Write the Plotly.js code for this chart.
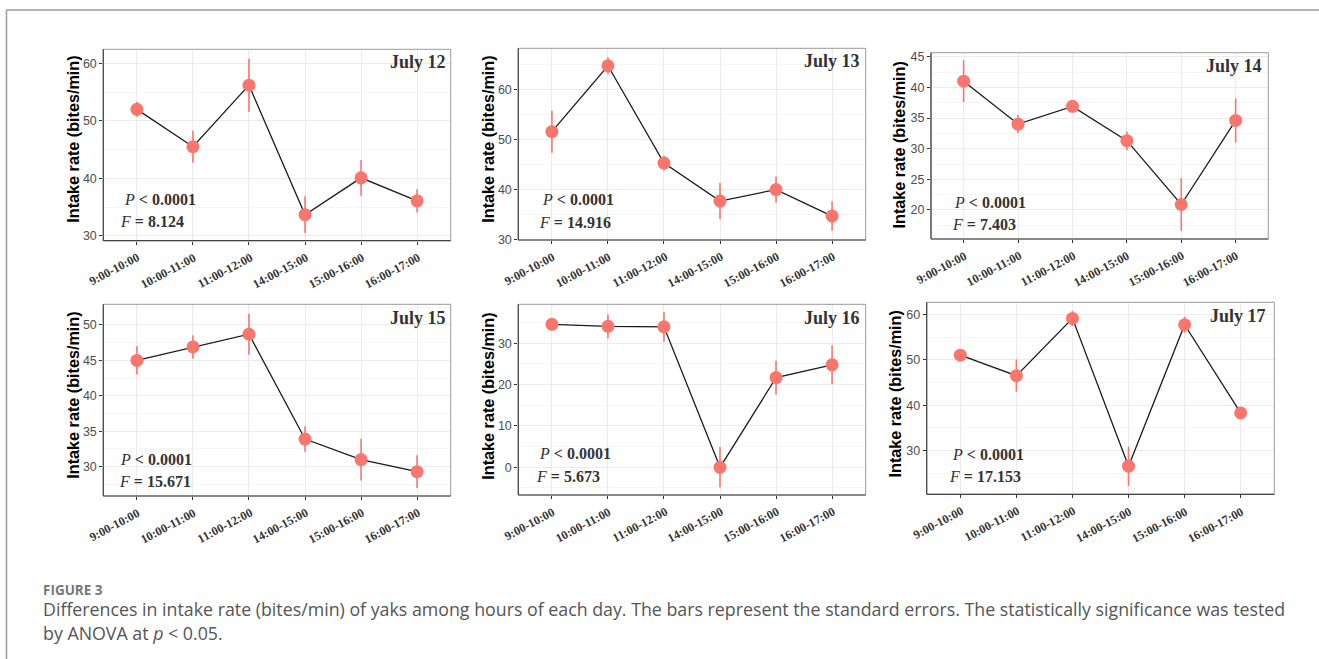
<!DOCTYPE html>
<html>
<head>
<meta charset="utf-8">
<script src="https://cdn.plot.ly/plotly-3.0.1.min.js"></script>
<style>
  html, body { margin: 0; padding: 0; background: #ffffff; }
  #fig { width: 1319px; height: 659px; }
</style>
</head>
<body>
<div id="fig"></div>
<script>
// Hourly intake rate of yaks (bites/min), mean and standard error per day
const hours = ["9:00-10:00", "10:00-11:00", "11:00-12:00", "14:00-15:00", "15:00-16:00", "16:00-17:00"];

const jul12 = [52.0, 45.5, 56.2, 33.7, 40.1, 36.1];
const se12  = [1.3, 2.8, 4.6, 3.2, 3.1, 2.0];
const jul13 = [51.6, 64.8, 45.3, 37.7, 40.0, 34.7];
const se13  = [4.2, 1.7, 1.5, 3.6, 2.6, 2.9];
const jul14 = [41.0, 34.0, 36.9, 31.3, 20.9, 34.6];
const se14  = [3.4, 1.5, 1.0, 1.5, 4.3, 3.6];
const jul15 = [45.0, 46.9, 48.7, 33.9, 31.0, 29.3];
const se15  = [2.0, 1.65, 2.9, 1.8, 2.95, 2.3];
const jul16 = [34.6, 34.1, 34.0, 0.0, 21.7, 24.8];
const se16  = [1.4, 2.9, 3.6, 4.9, 4.1, 4.65];
const jul17 = [51.0, 46.5, 59.1, 26.6, 57.7, 38.3];
const se17  = [0.9, 3.55, 1.7, 4.35, 1.75, 0.5];

const dayLabels = ["July 12", "July 13", "July 14", "July 15", "July 16", "July 17"];
const pValues   = ["0.0001", "0.0001", "0.0001", "0.0001", "0.0001", "0.0001"];
const fValues   = ["8.124", "14.916", "7.403", "15.671", "5.673", "17.153"];

const means = [jul12, jul13, jul14, jul15, jul16, jul17];
const errs  = [se12, se13, se14, se15, se16, se17];

const yTitle = "Intake rate (bites/min)";
const captionHead = "FIGURE 3";
const captionLine1 = "Differences in intake rate (bites/min) of yaks among hours of each day. The bars represent the standard errors. The statistically significance was tested";
const captionLine2 = "by ANOVA at <i>p</i> &lt; 0.05.";

// ---- panel geometry (pixels on the 1319 x 659 page) ----
const W = 1319, H = 659;
const panels = [
  { l: 103.3, r: 450.7,  t: 49.3,  b: 240.7, yr: [29.18, 62.43], dt: 10, mdt: 5,   ttl: [72.7, 139],  p: [0.053, 0.213], f: [0.043, 0.099], d: [0.991, 0.935] },
  { l: 518.3, r: 865.7,  t: 48.3,  b: 240.0, yr: [29.9, 68.3],   dt: 10, mdt: 5,   ttl: [487.7, 139], p: [0.0625, 0.209], f: [0.053, 0.090], d: [0.990, 0.935] },
  { l: 931.0, r: 1268.3, t: 52.7,  b: 239.0, yr: [15.27, 45.65], dt: 5,  mdt: 2.5, ttl: [898.5, 145], p: [0.061, 0.197], f: [0.056, 0.080], d: [0.988, 0.929] },
  { l: 103.3, r: 450.7,  t: 304.3, b: 496.0, yr: [25.86, 52.92], dt: 5,  mdt: 2.5, ttl: [72.7, 395],  p: [0.043, 0.191], f: [0.040, 0.078], d: [0.991, 0.927] },
  { l: 518.3, r: 865.7,  t: 304.3, b: 495.0, yr: [-6.7, 39.44],  dt: 10, mdt: 5,   ttl: [487.7, 396], p: [0.053, 0.219], f: [0.046, 0.0996], d: [0.990, 0.930] },
  { l: 926.7, r: 1274.3, t: 302.3, b: 494.3, yr: [20.41, 62.64], dt: 10, mdt: 5,   ttl: [894.5, 394], p: [0.067, 0.208], f: [0.0575, 0.095], d: [0.982, 0.930] }
];

const px = v => v / W;
const py = v => 1 - v / H;

const salmon = "#F8766D";
const serif = "Liberation Serif, Times New Roman, serif";
const sans = "Liberation Sans, Arial, sans-serif";

const data = [];
const layout = {
  width: W, height: H,
  margin: { l: 0, r: 0, t: 0, b: 0 },
  paper_bgcolor: "#ffffff",
  plot_bgcolor: "#ffffff",
  showlegend: false,
  annotations: [],
  shapes: []
};

panels.forEach((pn, i) => {
  const n = i + 1;
  const xa = n === 1 ? "x" : "x" + n;
  const ya = n === 1 ? "y" : "y" + n;
  const xk = n === 1 ? "xaxis" : "xaxis" + n;
  const yk = n === 1 ? "yaxis" : "yaxis" + n;

  // connecting line
  data.push({
    type: "scatter", mode: "lines",
    x: hours, y: means[i], xaxis: xa, yaxis: ya,
    line: { color: "#1a1a1a", width: 1.3 },
    hoverinfo: "skip"
  });
  // means with standard-error bars
  data.push({
    type: "scatter", mode: "markers",
    x: hours, y: means[i], xaxis: xa, yaxis: ya,
    marker: { color: salmon, size: 13, line: { width: 0 } },
    error_y: { type: "data", array: errs[i], visible: true, color: salmon, thickness: 1.6, width: 0 }
  });

  layout[xk] = {
    domain: [px(pn.l), px(pn.r)],
    anchor: ya,
    type: "category",
    categoryorder: "array",
    categoryarray: hours,
    range: [-0.6, 5.6],
    showgrid: true, gridcolor: "#ebebeb", gridwidth: 1,
    zeroline: false, showline: false,
    ticks: "outside", ticklen: 3, tickcolor: "#333333", tickwidth: 1,
    showticklabels: false
  };
  layout[yk] = {
    domain: [py(pn.b), py(pn.t)],
    anchor: xa,
    range: pn.yr,
    dtick: pn.dt, tick0: 0,
    showgrid: true, gridcolor: "#ebebeb", gridwidth: 1,
    minor: { dtick: pn.mdt, tick0: 0, showgrid: true, gridcolor: "#f5f5f5", gridwidth: 1, ticks: "" },
    zeroline: false, showline: false,
    ticks: "outside", ticklen: 3, tickcolor: "#333333", tickwidth: 1,
    tickfont: { family: sans, size: 12.5, color: "#4d4d4d" }
  };

  // slanted hour labels under each tick
  hours.forEach(h => {
    layout.annotations.push({
      xref: xa, yref: ya + " domain", x: h, y: 0,
      xanchor: "right", yanchor: "top", xshift: 8, yshift: -7,
      textangle: -28, showarrow: false,
      text: "<b>" + h + "</b>",
      font: { family: serif, size: 12.2, color: "#333333" }
    });
  });

  // panel frame: grey box, darker left and bottom axis lines
  layout.shapes.push({ type: "rect", xref: xa + " domain", yref: ya + " domain", x0: 0, x1: 1, y0: 0, y1: 1,
    line: { color: "#9a9a9a", width: 1 }, fillcolor: "rgba(0,0,0,0)", layer: "above" });
  layout.shapes.push({ type: "line", xref: xa + " domain", yref: ya + " domain", x0: 0, x1: 0, y0: 0, y1: 1,
    line: { color: "#444444", width: 1.2 }, layer: "above" });
  layout.shapes.push({ type: "line", xref: xa + " domain", yref: ya + " domain", x0: 0, x1: 1, y0: 0, y1: 0,
    line: { color: "#444444", width: 1.2 }, layer: "above" });

  // y-axis title
  layout.annotations.push({
    xref: "paper", yref: "paper", x: px(pn.ttl[0]), y: py(pn.ttl[1]),
    xanchor: "center", yanchor: "middle", textangle: -90, showarrow: false,
    text: "<b>" + yTitle + "</b>",
    font: { family: sans, size: 16.2, color: "#000000" }
  });
  // day label
  layout.annotations.push({
    xref: xa + " domain", yref: ya + " domain", x: pn.d[0], y: pn.d[1],
    xanchor: "right", yanchor: "middle", showarrow: false,
    text: "<b>" + dayLabels[i] + "</b>",
    font: { family: serif, size: 18, color: "#333333" }
  });
  // ANOVA statistics
  layout.annotations.push({
    xref: xa + " domain", yref: ya + " domain", x: pn.p[0], y: pn.p[1],
    xanchor: "left", yanchor: "middle", showarrow: false,
    text: "<i>P</i><b> &lt; " + pValues[i] + "</b>",
    font: { family: serif, size: 16, color: "#333333" }
  });
  layout.annotations.push({
    xref: xa + " domain", yref: ya + " domain", x: pn.f[0], y: pn.f[1],
    xanchor: "left", yanchor: "middle", showarrow: false,
    text: "<i>F</i><b> = " + fValues[i] + "</b>",
    font: { family: serif, size: 16, color: "#333333" }
  });
});

// page frame lines
layout.shapes.push({ type: "line", xref: "paper", yref: "paper", x0: px(6.5), x1: 1, y0: py(10), y1: py(10),
  line: { color: "#9a9a9a", width: 1.5 } });
layout.shapes.push({ type: "line", xref: "paper", yref: "paper", x0: px(6.5), x1: px(6.5), y0: py(10), y1: 0,
  line: { color: "#9a9a9a", width: 1.5 } });

// caption
const capFont = "Open Sans, Noto Sans, sans-serif";
layout.annotations.push({
  xref: "paper", yref: "paper", x: px(41), y: py(590), xanchor: "left", yanchor: "middle", showarrow: false,
  text: "<b>" + captionHead + "</b>", font: { family: capFont, size: 13.5, color: "#777777" }
});
layout.annotations.push({
  xref: "paper", yref: "paper", x: px(41), y: py(609), xanchor: "left", yanchor: "middle", showarrow: false,
  text: captionLine1, font: { family: capFont, size: 17.8, color: "#555555" }
});
layout.annotations.push({
  xref: "paper", yref: "paper", x: px(41), y: py(633), xanchor: "left", yanchor: "middle", showarrow: false,
  text: captionLine2, font: { family: capFont, size: 17.8, color: "#555555" }
});

Plotly.newPlot("fig", data, layout, { displayModeBar: false, staticPlot: true });
</script>
</body>
</html>
